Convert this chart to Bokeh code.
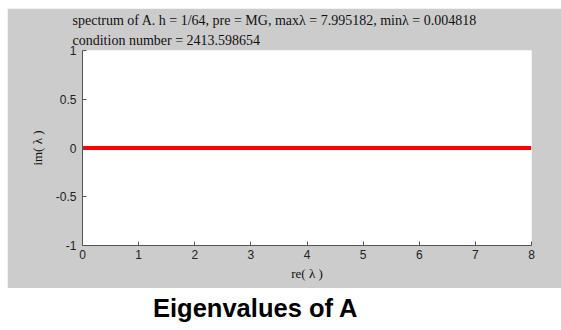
from bokeh.plotting import figure
from bokeh.models import Title, Div, FixedTicker, Spacer
from bokeh.layouts import column, row
from bokeh.embed import file_html
from bokeh.resources import INLINE

# Extreme eigenvalues of the preconditioned operator (all real)
eig_re = [0.004818, 7.995182]
eig_im = [0.0, 0.0]

x_ticks = [0, 1, 2, 3, 4, 5, 6, 7, 8]
y_ticks = [-1, -0.5, 0, 0.5, 1]
y_tick_labels = {-1: "-1", -0.5: "-0.5", 0: "0", 0.5: "0.5", 1: "1"}

title_line1 = "spectrum of A. h = 1/64, pre = MG, maxλ = 7.995182, minλ = 0.004818"
title_line2 = "condition number = 2413.598654"
caption = "Eigenvalues of A"

GREY = "#cccccc"

p = figure(width=561, height=280, x_range=(0, 8), y_range=(-1, 1),
           output_backend="svg", toolbar_location=None,
           background_fill_color="white", border_fill_color=GREY,
           min_border_left=75, min_border_right=37,
           min_border_top=42, min_border_bottom=43,
           margin=0)
p.outline_line_color = None
p.grid.visible = False

p.line(eig_re, eig_im, line_color="#ff0000", line_width=4)

for ax in (p.xaxis[0], p.yaxis[0]):
    ax.axis_line_color = "#555555"
    ax.major_tick_line_color = "#555555"
    ax.major_tick_in = 4
    ax.major_tick_out = 0
    ax.minor_tick_line_color = None
    ax.major_label_text_font = "Liberation Sans"
    ax.major_label_text_font_size = "12px"
    ax.major_label_text_color = "#222222"
    ax.axis_label_text_font = "Liberation Serif"
    ax.axis_label_text_font_style = "normal"
    ax.axis_label_text_font_size = "13px"
    ax.axis_label_text_color = "#111111"

p.xaxis.ticker = FixedTicker(ticks=x_ticks)
p.yaxis.ticker = FixedTicker(ticks=y_ticks)
p.yaxis.major_label_overrides = y_tick_labels
p.xaxis.major_label_standoff = 4
p.yaxis.major_label_standoff = 6
p.xaxis.axis_label = "re( λ )"
p.yaxis.axis_label = "im( λ )"
p.xaxis.axis_label_standoff = 4
p.yaxis.axis_label_standoff = 8

# two-line heading; the line added first sits closest to the plot frame
for txt, gap in ((title_line2, 5), (title_line1, 1)):
    p.add_layout(Title(text=txt, align="left", offset=-10, standoff=gap,
                       text_font="Liberation Serif", text_font_size="14px",
                       text_font_style="normal", text_color="#111111"), "above")

cap = Div(text=f'<div style="font: bold 25.5px \'Liberation Sans\', Arial, sans-serif; '
               f'color:#000; line-height:40px; white-space:nowrap;">{caption}</div>',
          width=300, height=36, margin=0)

layout = column(
    Spacer(width=561, height=8, margin=0),
    row(Spacer(width=7, height=280, margin=0), p, spacing=0, margin=0),
    row(Spacer(width=153, height=36, margin=0), cap, spacing=0, margin=0),
    spacing=0, margin=0,
)

open("out.html", "w").write(file_html(layout, INLINE))
